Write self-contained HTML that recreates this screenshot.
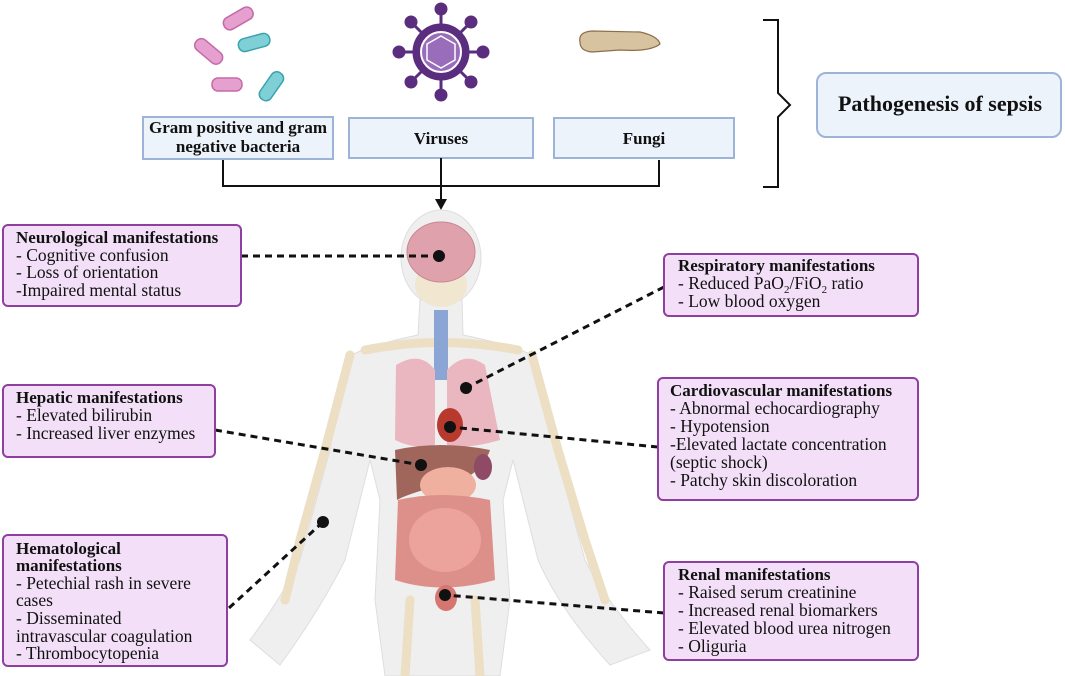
<!DOCTYPE html>
<html><head><meta charset="utf-8"><style>
body{margin:0;background:#fff;}
svg{display:block;font-family:"Liberation Serif",serif;}
.t{font-weight:bold;font-size:17px;fill:#111}
.l{font-size:17.5px;fill:#111}
</style></head><body>
<svg width="1065" height="676" viewBox="0 0 1065 676" xmlns="http://www.w3.org/2000/svg">
<g stroke-width="1.5">
<rect x="222" y="12" width="32" height="13" rx="6" fill="#e6a0cf" stroke="#c46aa8" transform="rotate(-30 238 18)"/>
<rect x="238" y="36" width="32" height="13" rx="6" fill="#7fd0d6" stroke="#3aa3ad" transform="rotate(-15 254 42)"/>
<rect x="193" y="45" width="32" height="13" rx="6" fill="#e6a0cf" stroke="#c46aa8" transform="rotate(40 209 51)"/>
<rect x="212" y="78" width="30" height="13" rx="6" fill="#e6a0cf" stroke="#c46aa8"/>
<rect x="255" y="80" width="32" height="13" rx="6" fill="#7fd0d6" stroke="#3aa3ad" transform="rotate(-55 271 86)"/>
</g>
<g fill="#5b2d7e" stroke="#5b2d7e" stroke-width="3">
<line x1="441" y1="52" x2="441" y2="10"/><line x1="441" y1="52" x2="441" y2="94"/>
<line x1="441" y1="52" x2="400" y2="52"/><line x1="441" y1="52" x2="482" y2="52"/>
<line x1="441" y1="52" x2="412" y2="23"/><line x1="441" y1="52" x2="470" y2="23"/>
<line x1="441" y1="52" x2="412" y2="81"/><line x1="441" y1="52" x2="470" y2="81"/>
<circle cx="441" cy="9" r="5"/><circle cx="441" cy="95" r="5"/><circle cx="399" cy="52" r="5"/><circle cx="483" cy="52" r="5"/>
<circle cx="411" cy="22" r="5"/><circle cx="471" cy="22" r="5"/><circle cx="411" cy="82" r="5"/><circle cx="471" cy="82" r="5"/>
<circle cx="441" cy="52" r="27"/>
</g>
<circle cx="441" cy="52" r="20" fill="#9a6dbb" stroke="#fff" stroke-width="2"/>
<polygon points="441,36 455,44 455,60 441,68 427,60 427,44" fill="none" stroke="#fff" stroke-width="1.5"/>
<path d="M580 42 Q578 32 592 31 L640 32 Q658 36 660 44 Q650 52 620 50 L592 52 Q580 51 580 42Z" fill="#d8c3a0" stroke="#8b6f4a" stroke-width="1.2"/>
<g fill="#edf3fb" stroke="#9db3d8" stroke-width="2">
<rect x="143" y="117" width="190" height="42"/>
<rect x="349" y="118" width="184" height="40"/>
<rect x="554" y="118" width="180" height="40"/>
<rect x="817" y="73" width="244" height="64" rx="9"/>
</g>
<text x="238" y="133" text-anchor="middle" class="t" font-size="15">Gram positive and gram</text>
<text x="238" y="152" text-anchor="middle" class="t" font-size="15">negative bacteria</text>
<text x="441" y="144" text-anchor="middle" class="t" font-size="18">Viruses</text>
<text x="644" y="144" text-anchor="middle" class="t" font-size="18">Fungi</text>
<text x="940" y="111" text-anchor="middle" font-weight="bold" font-size="22" fill="#111">Pathogenesis of sepsis</text>
<path d="M763 20 H778 V93 L790 105 L778 117 V187 H763" fill="none" stroke="#111" stroke-width="2"/>
<g stroke="#111" stroke-width="2" fill="none">
<path d="M223 160 V186 H659 V160"/><line x1="441" y1="158" x2="441" y2="200"/>
</g>
<polygon points="435,199 447,199 441,210" fill="#111"/>
<g fill="#efefef" stroke="#dedede">
<ellipse cx="441" cy="258" rx="40" ry="48"/>
<path d="M420 300 L418 335 Q370 345 352 355 Q340 380 330 450 L300 560 Q280 600 250 640 L280 665 Q320 610 345 560 L370 460 L380 500 L375 600 L385 676 L500 676 L510 600 L503 500 L513 460 L538 560 Q560 610 610 665 L650 650 Q605 600 585 560 L555 450 Q545 380 532 355 Q512 345 463 335 L462 300Z"/>
</g>
<g fill="none" stroke="#ecdfc4" stroke-width="9" stroke-linecap="round">
<path d="M350 355 L325 450 L300 540 L285 600"/>
<path d="M532 355 L558 450 L585 540 L605 600"/>
<path d="M410 600 L405 676"/><path d="M475 600 L480 676"/>
<path d="M365 350 Q441 335 518 350"/>
</g>
<ellipse cx="441" cy="285" rx="26" ry="22" fill="#f1e6cf"/>
<ellipse cx="441" cy="252" rx="34" ry="30" fill="#dfa2ac" stroke="#c98690"/>
<rect x="434" y="310" width="14" height="70" fill="#8ba6d4"/>
<path d="M396 365 Q420 350 435 370 L435 445 Q415 450 395 440Z" fill="#eab6bf"/>
<path d="M485 365 Q465 350 447 370 L447 445 Q465 450 500 440Z" fill="#eab6bf"/>
<ellipse cx="450" cy="425" rx="13" ry="17" fill="#b83a2e"/>
<path d="M395 450 Q440 440 490 450 Q480 480 440 485 Q405 495 397 500Z" fill="#a0665c"/>
<ellipse cx="483" cy="467" rx="9" ry="13" fill="#8f4a66"/>
<ellipse cx="448" cy="485" rx="28" ry="18" fill="#f0b0a0"/>
<path d="M398 500 Q441 490 490 500 L495 580 Q441 595 395 580Z" fill="#dd8f8a"/>
<ellipse cx="445" cy="540" rx="36" ry="32" fill="#eba39b"/>
<ellipse cx="446" cy="598" rx="11" ry="13" fill="#d57670"/>
<g stroke="#111" stroke-width="3" stroke-dasharray="7,5" fill="none">
<line x1="241" y1="256" x2="439" y2="256"/>
<line x1="664" y1="287" x2="466" y2="388"/>
<line x1="215" y1="430" x2="421" y2="465"/>
<line x1="658" y1="447" x2="450" y2="427"/>
<line x1="229" y1="608" x2="323" y2="522"/>
<line x1="664" y1="613" x2="445" y2="595"/>
</g>
<g fill="#111"><circle cx="439" cy="256" r="6"/><circle cx="466" cy="388" r="6"/><circle cx="450" cy="427" r="6"/><circle cx="421" cy="465" r="6"/><circle cx="323" cy="522" r="6"/><circle cx="445" cy="595" r="6"/></g>
<g fill="#f3e0f8" stroke="#8e3fa0" stroke-width="2">
<rect x="3" y="225" width="238" height="81" rx="5"/>
<rect x="664" y="254" width="254" height="62" rx="5"/>
<rect x="3" y="385" width="212" height="72" rx="5"/>
<rect x="658" y="378" width="260" height="122" rx="5"/>
<rect x="3" y="535" width="224" height="131" rx="5"/>
<rect x="664" y="562" width="254" height="98" rx="5"/>
</g>
<text class="t" x="16" y="243">Neurological manifestations</text>
<text class="l" x="16" y="261">- Cognitive confusion</text>
<text class="l" x="16" y="278">- Loss of orientation</text>
<text class="l" x="16" y="296">-Impaired mental status</text>
<text class="t" x="678" y="271">Respiratory manifestations</text>
<text class="l" x="678" y="289">- Reduced PaO<tspan font-size="11" dy="4">2</tspan><tspan dy="-4">/FiO</tspan><tspan font-size="11" dy="4">2</tspan><tspan dy="-4"> ratio</tspan></text>
<text class="l" x="678" y="307">- Low blood oxygen</text>
<text class="t" x="16" y="403">Hepatic manifestations</text>
<text class="l" x="16" y="421">- Elevated bilirubin</text>
<text class="l" x="16" y="439">- Increased liver enzymes</text>
<text class="t" x="670" y="396">Cardiovascular manifestations</text>
<text class="l" x="670" y="414">- Abnormal echocardiography</text>
<text class="l" x="670" y="432">- Hypotension</text>
<text class="l" x="670" y="450">-Elevated lactate concentration</text>
<text class="l" x="670" y="468">(septic shock)</text>
<text class="l" x="670" y="486">- Patchy skin discoloration</text>
<text class="t" x="16" y="554">Hematological</text>
<text class="t" x="16" y="571">manifestations</text>
<text class="l" x="16" y="589">- Petechial rash in severe</text>
<text class="l" x="16" y="606">cases</text>
<text class="l" x="16" y="624">- Disseminated</text>
<text class="l" x="16" y="642">intravascular coagulation</text>
<text class="l" x="16" y="659">- Thrombocytopenia</text>
<text class="t" x="678" y="580">Renal  manifestations</text>
<text class="l" x="678" y="598">- Raised serum creatinine</text>
<text class="l" x="678" y="616">- Increased renal biomarkers</text>
<text class="l" x="678" y="634">- Elevated blood urea nitrogen</text>
<text class="l" x="678" y="652">- Oliguria</text>
</svg>
</body></html>
